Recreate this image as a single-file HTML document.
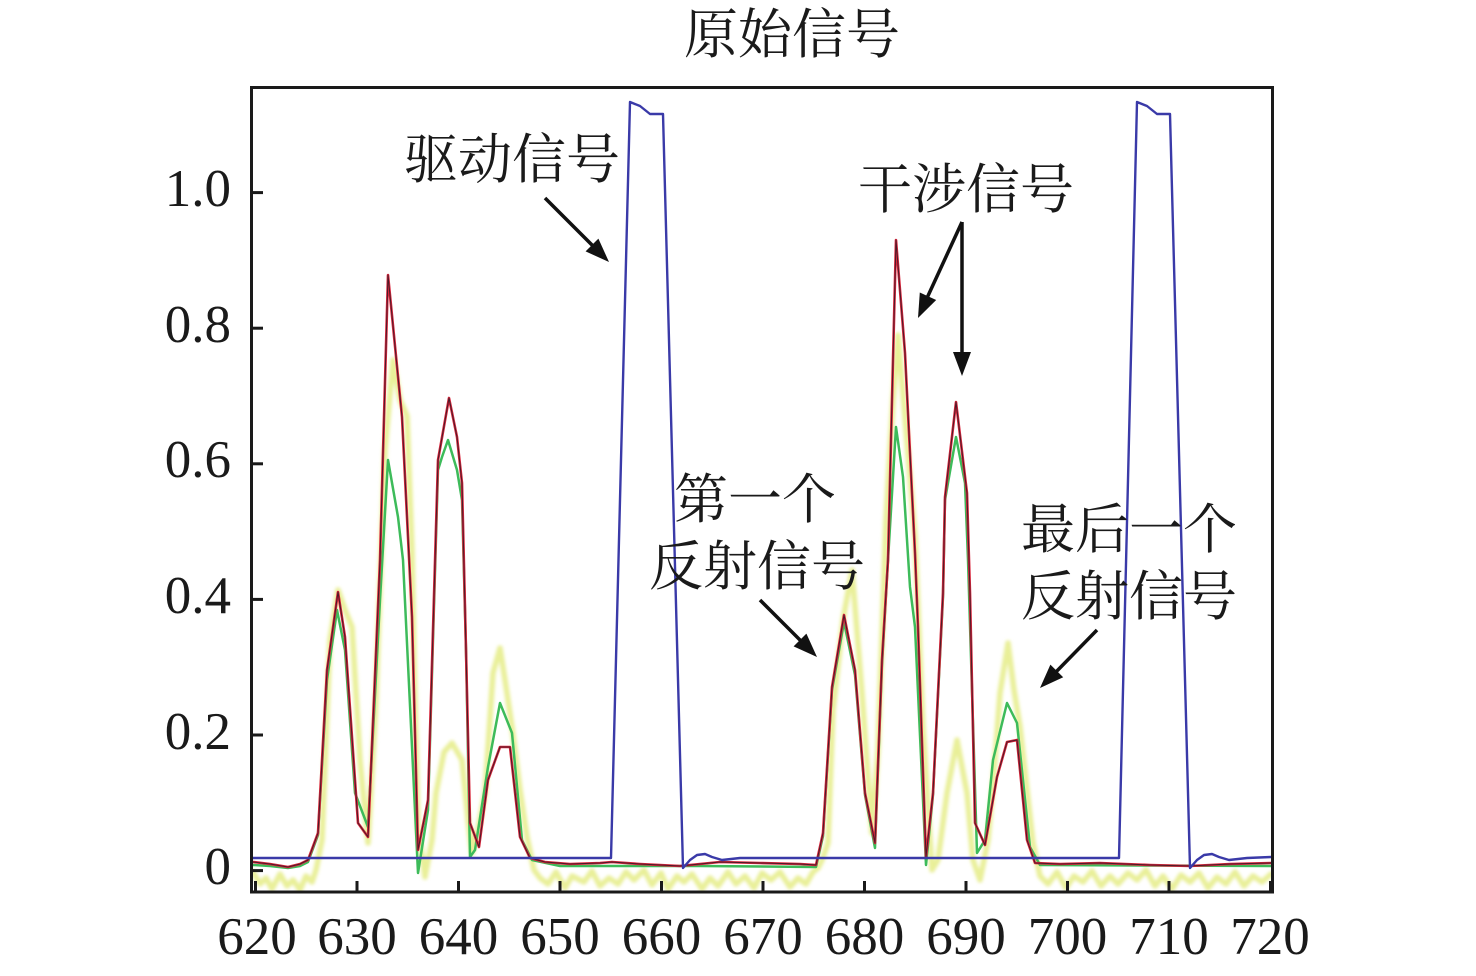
<!DOCTYPE html>
<html><head><meta charset="utf-8">
<style>
html,body{margin:0;padding:0;background:#fff;}
svg{display:block;}
.cjk{font-family:"Liberation Serif","Noto Serif CJK SC","Noto Sans CJK SC",serif;font-size:54px;fill:#1a1a1a;}
.num{font-family:"Liberation Serif",serif;font-size:53px;fill:#1a1a1a;}
</style></head>
<body>
<svg width="1476" height="976" viewBox="0 0 1476 976" xmlns="http://www.w3.org/2000/svg">
<rect width="1476" height="976" fill="#fff"/>
<defs>
<filter id="soft" x="-5%" y="-5%" width="110%" height="110%"><feGaussianBlur stdDeviation="1.6"/></filter>
<clipPath id="plot"><rect x="252" y="88" width="1020" height="803"/></clipPath>
</defs>

<g clip-path="url(#plot)" fill="none" stroke-linejoin="round" stroke-linecap="round">
<!-- yellow -->
<path filter="url(#soft)" stroke="#e0e86c" stroke-opacity="0.7" stroke-width="5.5" d="M253,872 L260,884 L266,878 L272,889 L280,874 L287,886 L293,880 L300,890 L306,876 L312,882 L316,870 L322,840 L330,640 L338,590 L345,610 L352,627 L360,760 L368,843 L376,700 L385,450 L393,360 L400,400 L407,416 L412,550 L414,660 L418,827 L425,877 L432,840 L436,793 L444,752 L452,743 L462,760 L468,820 L472,853 L478,830 L485,793 L493,673 L500,648 L505,680 L512,727 L520,790 L527,837 L534,870 L540,878 L548,884 L556,872 L565,888 L572,876 L584,882 L592,871 L600,886 L609,878 L618,884 L626,872 L634,880 L644,870 L652,885 L661,873 L668,889 L677,876 L684,882 L692,874 L702,889 L710,878 L718,886 L728,872 L736,884 L745,876 L754,888 L762,873 L771,880 L780,872 L790,887 L798,878 L806,884 L813,872 L818,868 L822,860 L828,843 L833,710 L843,620 L852,570 L862,693 L872,833 L878,750 L886,520 L893,400 L898,335 L906,430 L915,537 L923,727 L932,870 L938,860 L947,793 L957,740 L967,793 L973,860 L980,880 L988,840 L995,760 L1000,693 L1008,643 L1014,690 L1020,727 L1027,790 L1033,843 L1040,876 L1048,884 L1057,872 L1066,888 L1074,876 L1083,882 L1092,871 L1101,886 L1110,876 L1118,884 L1128,873 L1137,880 L1146,870 L1155,886 L1163,876 L1172,889 L1181,875 L1190,882 L1199,873 L1208,888 L1217,877 L1226,884 L1235,872 L1244,886 L1253,876 L1262,882 L1271,874"/>
<!-- green -->
<path stroke="#3dbb5a" stroke-width="2.5" d="M253,865 L270,866 L288,868 L300,866 L308,862 L318,835 L327,680 L337,610 L345,650 L355,793 L368,827 L380,600 L388,460 L398,517 L403,560 L412,747 L418,873 L428,810 L438,470 L442,457 L448,440 L457,470 L462,500 L466,650 L470,857 L475,850 L488,767 L500,703 L512,733 L522,840 L532,860 L560,866 L612,866 L700,866 L816,867 L823,836 L832,690 L844,622 L855,675 L865,795 L875,848 L882,665 L888,560 L896,427 L903,477 L910,587 L915,627 L926,865 L933,795 L943,597 L945,500 L956,437 L965,483 L968,560 L977,853 L985,840 L993,760 L1007,703 L1017,723 L1030,847 L1040,865 L1271,866"/>
<!-- red -->
<path stroke="#d9263c" stroke-width="2.6" d="M253,862 L270,864 L288,867 L300,864 L308,860 L318,833 L327,670 L338,592 L345,637 L358,823 L368,837 L380,560 L388,275 L402,417 L412,617 L418,850 L428,800 L438,460 L449,398 L457,437 L462,483 L466,650 L470,823 L479,847 L488,780 L500,747 L510,747 L520,837 L530,858 L545,862 L570,864 L600,863 L612,862 L640,864 L680,866 L700,864 L720,862 L760,863 L800,864 L816,865 L823,833 L832,687 L844,615 L855,670 L865,793 L875,843 L882,660 L888,560 L896,240 L905,353 L915,553 L918,627 L926,857 L933,793 L943,593 L945,497 L956,402 L967,493 L970,593 L975,823 L985,845 L997,777 L1007,742 L1017,740 L1027,840 L1035,863 L1060,864 L1100,863 L1150,865 L1190,866 L1230,864 L1271,863"/>
<path stroke="#4a1a28" stroke-width="1" d="M253,862 L270,864 L288,867 L300,864 L308,860 L318,833 L327,670 L338,592 L345,637 L358,823 L368,837 L380,560 L388,275 L402,417 L412,617 L418,850 L428,800 L438,460 L449,398 L457,437 L462,483 L466,650 L470,823 L479,847 L488,780 L500,747 L510,747 L520,837 L530,858 L545,862 L570,864 L600,863 L612,862 L640,864 L680,866 L700,864 L720,862 L760,863 L800,864 L816,865 L823,833 L832,687 L844,615 L855,670 L865,793 L875,843 L882,660 L888,560 L896,240 L905,353 L915,553 L918,627 L926,857 L933,793 L943,593 L945,497 L956,402 L967,493 L970,593 L975,823 L985,845 L997,777 L1007,742 L1017,740 L1027,840 L1035,863 L1060,864 L1100,863 L1150,865 L1190,866 L1230,864 L1271,863"/>
<!-- blue -->
<path stroke="#3a3aa8" stroke-width="2.4" d="M253,858 L611,858 L630,102 L640,106 L650,114 L663,114 L683,868 L690,860 L697,855 L705,854 L712,857 L722,860 L740,858 L1119,858 L1137,102 L1147,106 L1157,114 L1170,114 L1190,868 L1197,860 L1204,855 L1212,854 L1219,857 L1229,860 L1247,858 L1271,857"/>
</g>

<!-- axes frame -->
<rect x="251.5" y="87.5" width="1021" height="804.5" fill="none" stroke="#1a1a1a" stroke-width="3"/>
<!-- y ticks -->
<g stroke="#1a1a1a" stroke-width="3">
<line x1="251" y1="870.6" x2="263" y2="870.6"/>
<line x1="251" y1="735" x2="263" y2="735"/>
<line x1="251" y1="599.4" x2="263" y2="599.4"/>
<line x1="251" y1="463.8" x2="263" y2="463.8"/>
<line x1="251" y1="328.2" x2="263" y2="328.2"/>
<line x1="251" y1="192.6" x2="263" y2="192.6"/>
<!-- x ticks -->
<line x1="255.5" y1="892" x2="255.5" y2="881"/>
<line x1="357" y1="892" x2="357" y2="881"/>
<line x1="458.5" y1="892" x2="458.5" y2="881"/>
<line x1="560" y1="892" x2="560" y2="881"/>
<line x1="661.5" y1="892" x2="661.5" y2="881"/>
<line x1="763" y1="892" x2="763" y2="881"/>
<line x1="864.5" y1="892" x2="864.5" y2="881"/>
<line x1="966" y1="892" x2="966" y2="881"/>
<line x1="1067.5" y1="892" x2="1067.5" y2="881"/>
<line x1="1169" y1="892" x2="1169" y2="881"/>
<line x1="1270.5" y1="892" x2="1270.5" y2="881"/>
</g>

<!-- y labels -->
<g class="num" text-anchor="end">
<text x="231" y="884">0</text>
<text x="231" y="749">0.2</text>
<text x="231" y="613">0.4</text>
<text x="231" y="477">0.6</text>
<text x="231" y="342">0.8</text>
<text x="231" y="206">1.0</text>
</g>
<!-- x labels -->
<g class="num" text-anchor="middle">
<text x="257" y="954">620</text>
<text x="357" y="954">630</text>
<text x="458.5" y="954">640</text>
<text x="560" y="954">650</text>
<text x="661.5" y="954">660</text>
<text x="763" y="954">670</text>
<text x="864.5" y="954">680</text>
<text x="966" y="954">690</text>
<text x="1067.5" y="954">700</text>
<text x="1169" y="954">710</text>
<text x="1270" y="954">720</text>
</g>

<!-- title & annotations -->
<text class="cjk" x="684" y="53">原始信号</text>
<text class="cjk" x="404" y="178">驱动信号</text>
<text class="cjk" x="858" y="208">干涉信号</text>
<text class="cjk" x="674" y="518">第一个</text>
<text class="cjk" x="649" y="585">反射信号</text>
<text class="cjk" x="1021" y="548">最后一个</text>
<text class="cjk" x="1021" y="615">反射信号</text>

<!-- arrows -->
<g stroke="#111" stroke-width="3.5" fill="none">
<line x1="545" y1="198" x2="596" y2="249"/>
<line x1="962" y1="222" x2="927" y2="298"/>
<line x1="962" y1="222" x2="962" y2="355"/>
<line x1="760" y1="600" x2="804" y2="644"/>
<line x1="1097" y1="630" x2="1053" y2="675"/>
</g>
<g fill="#111">
<polygon points="609,262 585.6,251.4 598.4,238.6"/>
<polygon points="918,318 936.2,300 919.8,292.5"/>
<polygon points="962,376 953,352 971,352"/>
<polygon points="817,657 793.6,646.4 806.4,633.6"/>
<polygon points="1040,688 1063.2,677.2 1050.4,664.6"/>
</g>
</svg>
</body></html>
